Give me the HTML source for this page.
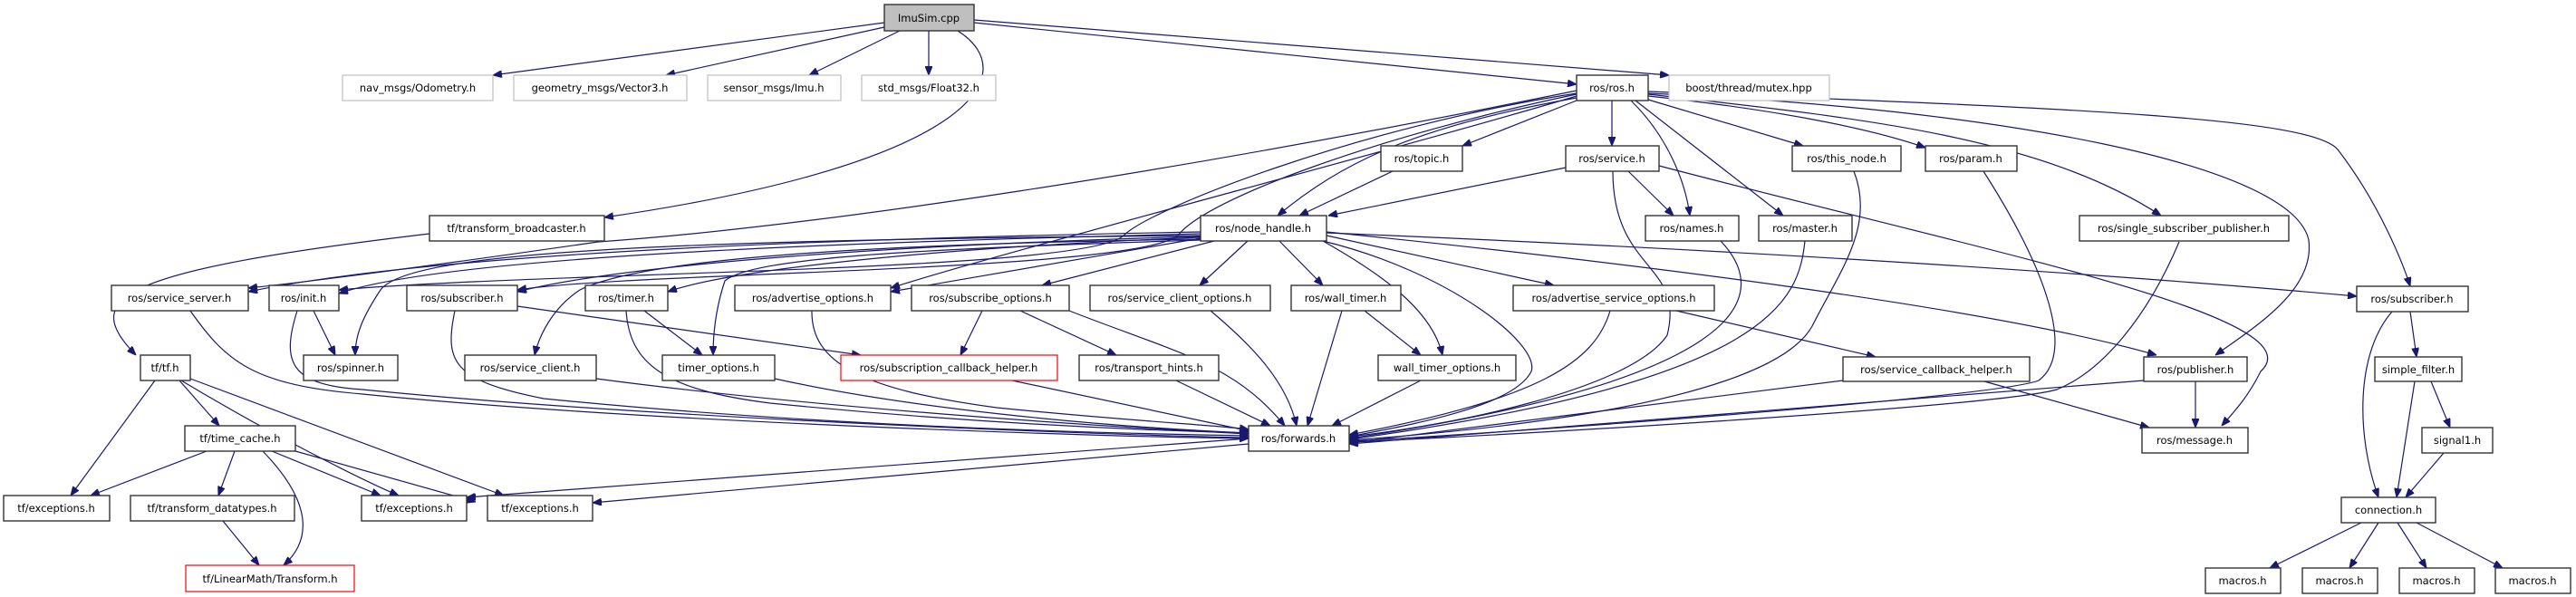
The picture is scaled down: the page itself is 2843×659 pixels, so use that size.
<!DOCTYPE html>
<html><head><meta charset="utf-8"><style>
html,body{margin:0;padding:0;background:#fff;}
svg{display:block;}
text{font-family:"DejaVu Sans","Liberation Sans",sans-serif;font-size:11.5px;fill:#000;}
.n{fill:#fff;stroke:#333;stroke-width:1.4;}
.g{fill:#fff;stroke:#bfbfbf;stroke-width:1.2;}
.r{fill:#fff;stroke:#ff0000;stroke-width:1.2;}
.e{fill:none;stroke:#191970;stroke-width:1.2;}
</style></head><body>
<svg width="2843" height="659" viewBox="0 0 2843 659" xmlns="http://www.w3.org/2000/svg">
<defs><marker id="a" markerWidth="10" markerHeight="8" refX="10" refY="4" orient="auto" markerUnits="userSpaceOnUse"><path d="M0,0 L10,4 L0,8 z" fill="#191970" stroke="#191970"/></marker></defs>
<g class="e" marker-end="url(#a)">
<path d="M976,25 L544,83"/>
<path d="M976,30 L735,83"/>
<path d="M993,34 L893,83"/>
<path d="M1025,34 L1025,83"/>
<path d="M1075,25 L1740,93"/>
<path d="M1075,22 L1842,83"/>
<path d="M1057,34 C1130,80 1080,180 667,240"/>
<path d="M474,258 C120,300 90,330 150,392"/>
<path d="M171,420 L78,547"/>
<path d="M198,420 L242,470"/>
<path d="M200,420 C300,480 400,530 440,547"/>
<path d="M210,418 L556,547"/>
<path d="M228,498 L100,547"/>
<path d="M259,498 L241,547"/>
<path d="M290,498 C350,560 340,600 313,624"/>
<path d="M300,498 L420,547"/>
<path d="M326,498 L525,554"/>
<path d="M246,575 L286,624"/>
<path d="M1378,484 L515,549"/>
<path d="M1378,490 L654,555"/>
<path d="M1740,111 L1614,161"/>
<path d="M1779,111 L1779,161"/>
<path d="M1740,108 C1560,140 1480,180 1410,238"/>
<path d="M1800,111 C1840,150 1860,200 1865,238"/>
<path d="M1805,111 L1968,238"/>
<path d="M1819,110 L1990,161"/>
<path d="M1819,106 C1950,120 2060,140 2125,163"/>
<path d="M1819,104 C2050,130 2250,150 2385,238"/>
<path d="M1819,103 C2200,120 2530,180 2548,265 C2555,320 2490,360 2445,392"/>
<path d="M1819,101 C2300,120 2550,130 2580,165 C2630,230 2655,300 2660,316"/>
<path d="M1740,100 C1300,190 900,250 660,267 C500,290 350,310 274,318"/>
<path d="M1740,103 C1500,140 1270,230 1240,260 C1200,300 600,300 374,320"/>
<path d="M1740,104 C1520,150 1330,220 1300,260 C1250,300 700,300 571,320"/>
<path d="M1740,106 C1560,160 1100,280 983,318"/>
<path d="M1325,256 C1000,262 500,275 274,322"/>
<path d="M1325,258 C1000,266 500,280 374,324"/>
<path d="M1325,260 C700,265 450,280 420,320 C400,350 392,370 392,392"/>
<path d="M1325,261 C1000,270 700,290 571,322"/>
<path d="M1325,262 C1000,275 800,300 737,322"/>
<path d="M1325,263 L983,322"/>
<path d="M1340,266 L1150,315"/>
<path d="M1377,266 L1324,315"/>
<path d="M1412,266 L1460,315"/>
<path d="M1325,264 C900,270 700,290 640,320 C610,340 595,370 590,392"/>
<path d="M1325,265 C1000,275 830,285 800,310 C790,340 787,370 787,392"/>
<path d="M1460,266 C1520,300 1580,340 1592,392"/>
<path d="M1464,260 L1715,315"/>
<path d="M1460,266 C1600,300 1700,380 1690,410 C1670,450 1550,470 1489,482"/>
<path d="M1464,256 C1800,290 2200,340 2380,392"/>
<path d="M1464,257 C1900,275 2300,300 2601,327"/>
<path d="M1537,189 L1434,238"/>
<path d="M1728,185 L1466,238"/>
<path d="M1797,189 L1847,238"/>
<path d="M1831,183 C2200,280 2560,350 2495,410 C2480,440 2465,455 2452,470"/>
<path d="M1780,189 C1780,300 1860,290 1840,370 C1800,430 1600,470 1489,482"/>
<path d="M1899,266 C1960,330 1920,420 1489,484"/>
<path d="M1992,266 C1985,330 1960,420 1489,485"/>
<path d="M2046,189 C2070,250 2030,300 2000,360 C1950,450 1600,478 1489,486"/>
<path d="M2189,189 C2260,300 2290,390 2250,420 C2200,440 1600,482 1489,487"/>
<path d="M2405,267 C2370,350 2320,410 2270,430 C2200,450 1600,484 1489,488"/>
<path d="M2034,420 L1489,489"/>
<path d="M2366,420 L1489,490"/>
<path d="M2190,421 L2372,472"/>
<path d="M2423,420 L2423,472"/>
<path d="M1777,343 C1760,400 1700,440 1489,480"/>
<path d="M1850,343 L2070,394"/>
<path d="M1481,343 L1443,470"/>
<path d="M1506,343 L1568,392"/>
<path d="M1568,420 L1470,470"/>
<path d="M1336,343 C1380,380 1420,420 1431,470"/>
<path d="M1084,343 L1060,392"/>
<path d="M1126,343 L1232,392"/>
<path d="M1180,343 C1300,390 1360,400 1418,470"/>
<path d="M1298,420 L1402,470"/>
<path d="M1117,420 L1380,476"/>
<path d="M855,418 C1000,450 1200,470 1378,478"/>
<path d="M658,418 C900,450 1200,470 1378,479"/>
<path d="M502,343 C490,400 500,420 600,440 C900,470 1200,478 1378,481"/>
<path d="M571,338 L950,392"/>
<path d="M711,343 L775,392"/>
<path d="M691,343 C695,400 730,430 850,445 C1100,470 1300,476 1378,478"/>
<path d="M896,343 C895,400 950,430 1100,450 C1250,465 1350,470 1378,474"/>
<path d="M346,343 L370,392"/>
<path d="M328,343 C310,400 320,425 400,430 C700,460 1200,480 1378,483"/>
<path d="M210,343 C250,400 280,425 400,435 C700,465 1200,482 1378,484"/>
<path d="M2660,344 L2667,394"/>
<path d="M2640,344 C2600,390 2600,480 2625,549"/>
<path d="M2683,421 L2704,472"/>
<path d="M2665,421 L2645,549"/>
<path d="M2697,500 L2655,549"/>
<path d="M2606,577 L2505,627"/>
<path d="M2625,577 L2593,627"/>
<path d="M2646,577 L2678,627"/>
<path d="M2667,577 L2762,627"/>
</g>
<g text-anchor="middle">
<rect x="976" y="5" width="99" height="29" fill="#bfbfbf" stroke="#333" stroke-width="1.4"/><text x="1025" y="24">ImuSim.cpp</text>
<rect class="g" x="378" y="83" width="166" height="28"/><text x="461" y="101">nav_msgs/Odometry.h</text>
<rect class="g" x="567" y="83" width="191" height="28"/><text x="662" y="101">geometry_msgs/Vector3.h</text>
<rect class="g" x="781" y="83" width="147" height="28"/><text x="854" y="101">sensor_msgs/Imu.h</text>
<rect class="g" x="951" y="83" width="148" height="28"/><text x="1025" y="101">std_msgs/Float32.h</text>
<rect class="n" x="1740" y="83" width="79" height="28"/><text x="1779" y="101">ros/ros.h</text>
<rect class="g" x="1842" y="83" width="177" height="28"/><text x="1930" y="101">boost/thread/mutex.hpp</text>
<rect class="n" x="1524" y="161" width="90" height="28"/><text x="1569" y="179">ros/topic.h</text>
<rect class="n" x="1728" y="161" width="103" height="28"/><text x="1779" y="179">ros/service.h</text>
<rect class="n" x="1978" y="161" width="120" height="28"/><text x="2038" y="179">ros/this_node.h</text>
<rect class="n" x="2125" y="161" width="101" height="28"/><text x="2175" y="179">ros/param.h</text>
<rect class="n" x="474" y="238" width="193" height="28"/><text x="570" y="256">tf/transform_broadcaster.h</text>
<rect class="n" x="1325" y="238" width="139" height="28"/><text x="1394" y="256">ros/node_handle.h</text>
<rect class="n" x="1816" y="238" width="103" height="28"/><text x="1867" y="256">ros/names.h</text>
<rect class="n" x="1941" y="238" width="103" height="28"/><text x="1992" y="256">ros/master.h</text>
<rect class="n" x="2295" y="238" width="231" height="28"/><text x="2410" y="256">ros/single_subscriber_publisher.h</text>
<rect class="n" x="123" y="315" width="151" height="28"/><text x="198" y="333">ros/service_server.h</text>
<rect class="n" x="297" y="315" width="77" height="28"/><text x="335" y="333">ros/init.h</text>
<rect class="n" x="449" y="315" width="122" height="28"/><text x="510" y="333">ros/subscriber.h</text>
<rect class="n" x="646" y="315" width="91" height="28"/><text x="691" y="333">ros/timer.h</text>
<rect class="n" x="811" y="315" width="172" height="28"/><text x="897" y="333">ros/advertise_options.h</text>
<rect class="n" x="1006" y="315" width="174" height="28"/><text x="1093" y="333">ros/subscribe_options.h</text>
<rect class="n" x="1203" y="315" width="199" height="28"/><text x="1302" y="333">ros/service_client_options.h</text>
<rect class="n" x="1425" y="315" width="121" height="28"/><text x="1485" y="333">ros/wall_timer.h</text>
<rect class="n" x="1670" y="315" width="222" height="28"/><text x="1781" y="333">ros/advertise_service_options.h</text>
<rect class="n" x="2601" y="316" width="123" height="28"/><text x="2662" y="334">ros/subscriber.h</text>
<rect class="n" x="155" y="392" width="55" height="28"/><text x="182" y="410">tf/tf.h</text>
<rect class="n" x="335" y="392" width="104" height="28"/><text x="387" y="410">ros/spinner.h</text>
<rect class="n" x="513" y="392" width="145" height="28"/><text x="585" y="410">ros/service_client.h</text>
<rect class="n" x="731" y="392" width="124" height="28"/><text x="793" y="410">timer_options.h</text>
<rect class="r" x="928" y="392" width="239" height="28"/><text x="1047" y="410">ros/subscription_callback_helper.h</text>
<rect class="n" x="1191" y="392" width="154" height="28"/><text x="1268" y="410">ros/transport_hints.h</text>
<rect class="n" x="1521" y="392" width="152" height="28"/><text x="1597" y="410">wall_timer_options.h</text>
<rect class="n" x="2034" y="394" width="206" height="27"/><text x="2137" y="412">ros/service_callback_helper.h</text>
<rect class="n" x="2366" y="394" width="114" height="27"/><text x="2423" y="412">ros/publisher.h</text>
<rect class="n" x="2621" y="394" width="96" height="27"/><text x="2669" y="412">simple_filter.h</text>
<rect class="n" x="204" y="470" width="122" height="28"/><text x="265" y="488">tf/time_cache.h</text>
<rect class="n" x="1378" y="470" width="111" height="28"/><text x="1433" y="488">ros/forwards.h</text>
<rect class="n" x="2364" y="472" width="117" height="28"/><text x="2422" y="490">ros/message.h</text>
<rect class="n" x="2673" y="472" width="78" height="28"/><text x="2712" y="490">signal1.h</text>
<rect class="n" x="4" y="547" width="117" height="28"/><text x="62" y="565">tf/exceptions.h</text>
<rect class="n" x="144" y="547" width="181" height="28"/><text x="234" y="565">tf/transform_datatypes.h</text>
<rect class="n" x="399" y="547" width="116" height="28"/><text x="457" y="565">tf/exceptions.h</text>
<rect class="n" x="538" y="547" width="116" height="28"/><text x="596" y="565">tf/exceptions.h</text>
<rect class="n" x="2584" y="549" width="104" height="28"/><text x="2636" y="567">connection.h</text>
<rect class="r" x="205" y="624" width="186" height="29"/><text x="298" y="643">tf/LinearMath/Transform.h</text>
<rect class="n" x="2434" y="627" width="83" height="28"/><text x="2475" y="645">macros.h</text>
<rect class="n" x="2541" y="627" width="83" height="28"/><text x="2582" y="645">macros.h</text>
<rect class="n" x="2648" y="627" width="83" height="28"/><text x="2689" y="645">macros.h</text>
<rect class="n" x="2754" y="627" width="83" height="28"/><text x="2795" y="645">macros.h</text>
</g>
</svg>
</body></html>
